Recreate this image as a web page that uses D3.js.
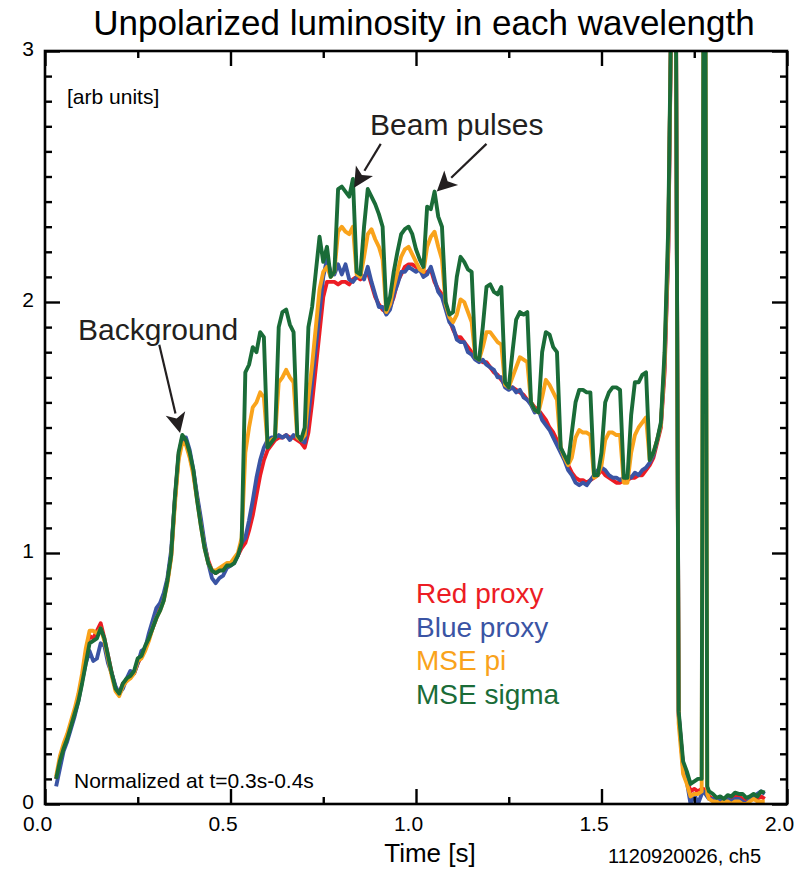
<!DOCTYPE html>
<html>
<head>
<meta charset="utf-8">
<script src="https://cdn.jsdelivr.net/npm/d3@7"></script>
<style>
  html, body { margin: 0; padding: 0; background: #fff; }
  svg { display: block; font-family: "Liberation Sans", Arial, Helvetica, sans-serif; }
</style>
</head>
<body>
<svg id="chart" width="806" height="869"></svg>
<script>
// Sample times [s]
const time = [
  0.03,0.04,0.05,0.06,0.07,0.08,0.09,0.10,0.11,0.12,
  0.13,0.14,0.15,0.16,0.17,0.18,0.19,0.20,0.21,0.22,
  0.23,0.24,0.25,0.26,0.27,0.28,0.29,0.30,0.31,0.32,
  0.33,0.34,0.35,0.36,0.37,0.38,0.39,0.40,0.41,0.42,
  0.43,0.44,0.45,0.46,0.47,0.48,0.49,0.50,0.51,0.52,
  0.53,
  0.54,0.55,0.56,0.57,0.58,0.59,0.60,0.61,0.62,0.63,
  0.64,0.65,0.66,0.67,0.68,0.69,0.70,0.71,0.72,0.73,
  0.74,0.75,0.76,0.77,0.78,0.79,0.80,0.81,0.82,0.83,
  0.84,0.85,0.86,0.87,0.88,0.89,0.90,0.91,0.92,0.93,
  0.94,0.95,0.96,0.97,0.98,0.99,1.00,1.01,1.02,1.03,
  1.04,1.05,1.06,1.07,1.08,1.09,1.10,1.11,1.12,1.13,
  1.14,1.15,1.16,1.17,1.18,1.19,1.20,1.21,1.22,1.23,
  1.24,1.25,1.26,1.27,1.28,1.29,1.30,1.31,1.32,1.33,
  1.34,1.35,1.36,1.37,1.38,1.39,1.40,1.41,1.42,1.43,
  1.44,1.45,1.46,1.47,1.48,1.49,1.50,1.51,1.52,1.53,
  1.54,1.55,1.56,1.57,1.58,1.59,1.60,1.61,1.62,1.63,
  1.64,1.65,1.66,1.67,1.68,1.69,1.70,
  1.708,
  1.72,1.73,1.74,1.75,1.76,1.77,
  1.775,1.78,1.785,
  1.79,1.80,1.81,1.82,1.83,1.84,1.85,1.86,1.87,1.88,1.89,1.90,1.91,1.92,1.93,1.94
];

// Normalized luminosity per channel [arb units]
const redProxy = [
  0.10,0.17,0.23,0.27,0.31,0.36,0.42,0.50,0.60,0.67,
  0.66,0.69,0.72,0.66,0.59,0.52,0.46,0.44,0.48,0.49,
  0.51,0.52,0.56,0.59,0.62,0.66,0.70,0.74,0.78,0.82,
  0.89,0.99,1.21,1.39,1.46,1.44,1.39,1.32,1.22,1.12,
  1.03,0.97,0.93,0.92,0.93,0.94,0.95,0.96,0.97,0.99,
  1.02,
  1.04,1.09,1.15,1.23,1.31,1.37,1.41,1.43,1.45,1.46,
  1.46,1.47,1.46,1.46,1.45,1.44,1.42,1.48,1.60,1.74,
  1.88,2.02,2.08,2.08,2.08,2.07,2.08,2.08,2.07,2.09,
  2.10,2.09,2.10,2.12,2.07,2.02,1.99,1.97,1.96,1.98,
  2.02,2.08,2.11,2.14,2.15,2.15,2.14,2.13,2.11,2.12,
  2.13,2.08,2.05,2.03,1.98,1.93,1.89,1.86,1.86,1.84,
  1.82,1.80,1.78,1.77,1.76,1.76,1.74,1.72,1.71,1.69,
  1.67,1.66,1.66,1.65,1.64,1.63,1.61,1.60,1.58,1.57,
  1.55,1.53,1.50,1.48,1.45,1.42,1.38,1.35,1.32,1.30,
  1.29,1.29,1.28,1.29,1.30,1.31,1.33,1.31,1.30,1.29,
  1.28,1.28,1.29,1.29,1.30,1.30,1.31,1.31,1.33,1.35,
  1.38,1.44,1.50,1.72,2.20,3.40,3.40,
  0.35,
  0.15,0.10,0.05,0.06,0.05,0.06,
  0.06,0.05,0.04,
  0.03,0.02,0.02,0.01,0.02,0.02,0.02,0.04,0.03,0.02,0.01,0.02,0.03,0.02,0.03,0.02
];

const blueProxy = [
  0.07,0.14,0.21,0.25,0.30,0.35,0.41,0.49,0.56,0.61,
  0.57,0.58,0.64,0.63,0.56,0.52,0.47,0.44,0.46,0.50,
  0.53,0.52,0.56,0.61,0.62,0.68,0.73,0.78,0.80,0.84,
  0.90,1.01,1.21,1.38,1.46,1.46,1.41,1.33,1.23,1.14,
  1.04,0.96,0.90,0.88,0.90,0.91,0.94,0.95,0.96,0.99,
  1.04,
  1.06,1.13,1.21,1.30,1.37,1.42,1.45,1.46,1.46,1.47,
  1.46,1.47,1.45,1.47,1.46,1.45,1.44,1.55,1.68,1.82,
  1.96,2.10,2.17,2.12,2.11,2.15,2.11,2.15,2.09,2.08,
  2.10,2.11,2.09,2.14,2.08,2.03,1.98,1.98,1.95,1.97,
  2.03,2.07,2.12,2.12,2.14,2.13,2.12,2.13,2.10,2.11,
  2.14,2.09,2.04,2.02,1.97,1.92,1.90,1.85,1.84,1.84,
  1.80,1.79,1.77,1.76,1.77,1.75,1.74,1.73,1.70,1.70,
  1.66,1.65,1.66,1.64,1.65,1.62,1.61,1.59,1.56,1.57,
  1.53,1.51,1.49,1.46,1.43,1.40,1.37,1.33,1.31,1.28,
  1.27,1.28,1.27,1.29,1.31,1.33,1.34,1.33,1.31,1.30,
  1.30,1.29,1.30,1.31,1.30,1.32,1.31,1.33,1.34,1.36,
  1.39,1.45,1.51,1.75,2.22,3.40,3.40,
  0.36,
  0.14,0.09,0.00,0.04,0.00,0.04,
  0.05,0.04,0.03,
  0.02,0.02,0.01,0.02,0.01,0.02,0.01,0.02,0.02,0.01,0.00,0.02,0.03,0.04,0.05,0.04
];

const msePi = [
  0.11,0.19,0.24,0.28,0.33,0.38,0.44,0.52,0.62,0.69,
  0.69,0.68,0.70,0.65,0.58,0.51,0.45,0.43,0.47,0.49,
  0.50,0.52,0.57,0.58,0.61,0.65,0.70,0.74,0.77,0.81,
  0.88,0.98,1.19,1.37,1.44,1.43,1.38,1.31,1.21,1.11,
  1.02,0.96,0.93,0.93,0.94,0.95,0.96,0.96,0.98,1.00,
  1.06,
  1.40,1.50,1.58,1.60,1.64,1.62,1.43,1.45,1.46,1.68,
  1.70,1.73,1.70,1.68,1.46,1.45,1.47,1.62,1.75,1.90,
  2.05,2.12,2.14,2.10,2.12,2.28,2.30,2.28,2.27,2.30,
  2.11,2.10,2.18,2.27,2.29,2.25,2.22,2.17,1.96,1.99,
  2.06,2.12,2.18,2.21,2.22,2.19,2.16,2.13,2.12,2.22,
  2.26,2.28,2.22,2.17,1.99,1.94,1.92,1.95,2.01,2.00,
  1.96,1.92,1.78,1.77,1.82,1.88,1.88,1.86,1.84,1.83,
  1.67,1.66,1.70,1.74,1.78,1.77,1.76,1.60,1.57,1.56,
  1.62,1.69,1.67,1.64,1.61,1.42,1.38,1.35,1.38,1.46,
  1.49,1.48,1.48,1.47,1.30,1.31,1.35,1.45,1.48,1.48,
  1.47,1.47,1.28,1.28,1.40,1.47,1.50,1.52,1.54,1.37,
  1.40,1.45,1.51,1.76,2.25,3.40,3.40,
  0.32,
  0.12,0.08,0.03,0.04,0.04,0.05,
  3.40,3.40,0.04,
  0.02,0.01,0.01,0.00,0.01,0.01,0.00,0.01,0.01,0.00,0.00,0.01,0.02,0.01,0.01,0.01
];

const mseSigma = [
  0.10,0.17,0.22,0.26,0.31,0.36,0.41,0.48,0.56,0.64,
  0.65,0.66,0.70,0.66,0.59,0.52,0.46,0.44,0.48,0.50,
  0.51,0.53,0.58,0.59,0.63,0.66,0.70,0.74,0.77,0.81,
  0.89,0.99,1.22,1.40,1.47,1.45,1.40,1.33,1.21,1.11,
  1.02,0.96,0.93,0.92,0.93,0.93,0.95,0.95,0.96,0.99,
  1.04,
  1.72,1.75,1.82,1.80,1.88,1.86,1.42,1.44,1.46,1.90,
  1.96,1.97,1.91,1.88,1.47,1.45,1.50,1.90,1.98,2.12,
  2.26,2.16,2.22,2.10,2.12,2.45,2.46,2.44,2.42,2.49,
  2.12,2.11,2.30,2.45,2.42,2.39,2.35,2.30,1.97,2.02,
  2.12,2.20,2.27,2.29,2.30,2.27,2.21,2.17,2.14,2.38,
  2.37,2.44,2.34,2.30,2.00,1.95,1.96,2.10,2.18,2.16,
  2.13,2.12,1.78,1.77,1.90,2.06,2.07,2.04,2.03,2.06,
  1.68,1.66,1.80,1.93,1.96,1.95,1.96,1.60,1.57,1.56,
  1.80,1.88,1.87,1.82,1.80,1.42,1.39,1.36,1.48,1.60,
  1.65,1.65,1.64,1.64,1.31,1.31,1.40,1.60,1.64,1.66,
  1.66,1.65,1.30,1.30,1.55,1.68,1.68,1.71,1.72,1.37,
  1.40,1.45,1.52,1.80,2.30,3.40,3.40,
  0.37,
  0.17,0.13,0.08,0.09,0.10,0.10,
  3.40,3.40,0.07,
  0.05,0.04,0.025,0.03,0.02,0.035,0.03,0.045,0.04,0.04,0.025,0.03,0.04,0.03,0.05,0.045
];

const seriesNames = ["Red proxy", "Blue proxy", "MSE pi", "MSE sigma"];
const seriesColors = ["#ec1c24", "#3a54a4", "#f9a31b", "#1a6c38"];
const seriesValues = [redProxy, blueProxy, msePi, mseSigma];

const xMajorTicks = [0, 0.5, 1.0, 1.5, 2.0];
const xMinorTicks = [0.25, 0.75, 1.25, 1.75];
const yMajorTicks = [0, 1, 2, 3];
const yMinorTicks = d3.range(1, 30).filter(i => i % 10 !== 0).map(i => i / 10);

const svg = d3.select("#chart");
const plotLeft = 45, plotRight = 787, plotTop = 51, plotBottom = 804;

const x = d3.scaleLinear().domain([0, 2]).range([plotLeft, plotRight]);
const y = d3.scaleLinear().domain([0, 3]).range([plotBottom, plotTop]);

svg.append("rect").attr("width", 806).attr("height", 869).attr("fill", "#fff");

// clip for the traces
svg.append("defs").append("clipPath").attr("id", "plotClip")
  .append("rect").attr("x", plotLeft).attr("y", plotTop)
  .attr("width", plotRight - plotLeft).attr("height", plotBottom - plotTop);

const line = d3.line()
  .x((d, i) => x(time[i]))
  .y(d => y(d));

const traces = svg.append("g").attr("clip-path", "url(#plotClip)");
seriesValues.forEach((vals, k) => {
  traces.append("path")
    .datum(vals)
    .attr("d", line)
    .attr("fill", "none")
    .attr("stroke", seriesColors[k])
    .attr("stroke-width", 3.9)
    .attr("stroke-linejoin", "round")
    .attr("stroke-linecap", "butt");
});

// axes with inward ticks on all four sides
const tickStyle = g => {
  g.select(".domain").remove();
  g.selectAll("line").attr("stroke", "#000").attr("stroke-width", 2.4);
};

svg.append("g").attr("transform", `translate(0,${plotBottom})`)
  .call(d3.axisBottom(x).tickValues(xMajorTicks).tickSize(-15).tickPadding(12)
    .tickFormat(d3.format(".1f")))
  .call(tickStyle)
  .call(g => g.selectAll("text").attr("font-size", 21).attr("fill", "#000")
    .attr("dx", -8).attr("font-family", "Liberation Sans, Arial, sans-serif"));
svg.append("g").attr("transform", `translate(0,${plotBottom})`)
  .call(d3.axisBottom(x).tickValues(xMinorTicks).tickSize(-7).tickFormat(""))
  .call(tickStyle);
svg.append("g").attr("transform", `translate(0,${plotTop})`)
  .call(d3.axisTop(x).tickValues(xMajorTicks).tickSize(-15).tickFormat(""))
  .call(tickStyle);
svg.append("g").attr("transform", `translate(0,${plotTop})`)
  .call(d3.axisTop(x).tickValues(xMinorTicks).tickSize(-7).tickFormat(""))
  .call(tickStyle);

svg.append("g").attr("transform", `translate(${plotLeft},0)`)
  .call(d3.axisLeft(y).tickValues(yMajorTicks).tickSize(-15).tickPadding(11)
    .tickFormat(d3.format("d")))
  .call(tickStyle)
  .call(g => g.selectAll("text").attr("font-size", 21).attr("fill", "#000")
    .attr("dy", "0.2em")
    .attr("font-family", "Liberation Sans, Arial, sans-serif"));
svg.append("g").attr("transform", `translate(${plotLeft},0)`)
  .call(d3.axisLeft(y).tickValues(yMinorTicks).tickSize(-7).tickFormat(""))
  .call(tickStyle);
svg.append("g").attr("transform", `translate(${plotRight},0)`)
  .call(d3.axisRight(y).tickValues(yMajorTicks).tickSize(-15).tickFormat(""))
  .call(tickStyle);
svg.append("g").attr("transform", `translate(${plotRight},0)`)
  .call(d3.axisRight(y).tickValues(yMinorTicks).tickSize(-7).tickFormat(""))
  .call(tickStyle);

// frame
svg.append("rect")
  .attr("x", plotLeft).attr("y", plotTop)
  .attr("width", plotRight - plotLeft).attr("height", plotBottom - plotTop)
  .attr("fill", "none").attr("stroke", "#000").attr("stroke-width", 2.6);

// titles and notes
svg.append("text").attr("x", 424).attr("y", 35).attr("text-anchor", "middle")
  .attr("font-size", 35).attr("fill", "#000")
  .text("Unpolarized luminosity in each wavelength");
svg.append("text").attr("x", 430).attr("y", 862).attr("text-anchor", "middle")
  .attr("font-size", 26).attr("fill", "#000").text("Time [s]");
svg.append("text").attr("x", 608).attr("y", 863)
  .attr("font-size", 20).attr("fill", "#000").text("1120920026, ch5");
svg.append("text").attr("x", 67).attr("y", 104)
  .attr("font-size", 21).attr("fill", "#000").text("[arb units]");
svg.append("text").attr("x", 74).attr("y", 788)
  .attr("font-size", 21).attr("fill", "#000").text("Normalized at t=0.3s-0.4s");

// legend
const legend = svg.append("g");
seriesNames.forEach((name, k) => {
  legend.append("text")
    .attr("x", 416).attr("y", 603 + k * 33.5)
    .attr("font-size", 28).attr("fill", seriesColors[k])
    .text(name);
});

// annotations: arrows given in data coordinates [time, value]
const annotations = [
  { text: "Background", tx: 78, ty: 340, arrows: [[[0.308, 1.83], [0.364, 1.478]]] },
  { text: "Beam pulses", tx: 370, ty: 135,
    arrows: [[[0.905, 2.63], [0.833, 2.455]], [[1.19, 2.63], [1.056, 2.44]]] }
];
const ann = svg.append("g");
annotations.forEach(a => {
  ann.append("text").attr("x", a.tx).attr("y", a.ty)
    .attr("font-size", 30).attr("fill", "#231f20").text(a.text);
  a.arrows.forEach(([from, to]) => {
    const x0 = x(from[0]), y0 = y(from[1]), x1 = x(to[0]), y1 = y(to[1]);
    const ang = Math.atan2(y1 - y0, x1 - x0);
    const headLen = 20, headW = 10;
    const bx = x1 - headLen * Math.cos(ang), by = y1 - headLen * Math.sin(ang);
    ann.append("line").attr("x1", x0).attr("y1", y0).attr("x2", bx).attr("y2", by)
      .attr("stroke", "#231f20").attr("stroke-width", 2.2);
    const px = -Math.sin(ang) * headW, py = Math.cos(ang) * headW;
    const notch = 5;
    const nx = bx + notch * Math.cos(ang), ny = by + notch * Math.sin(ang);
    ann.append("path")
      .attr("d", `M${x1},${y1}L${bx + px},${by + py}L${nx},${ny}L${bx - px},${by - py}Z`)
      .attr("fill", "#231f20");
  });
});
</script>
</body>
</html>
